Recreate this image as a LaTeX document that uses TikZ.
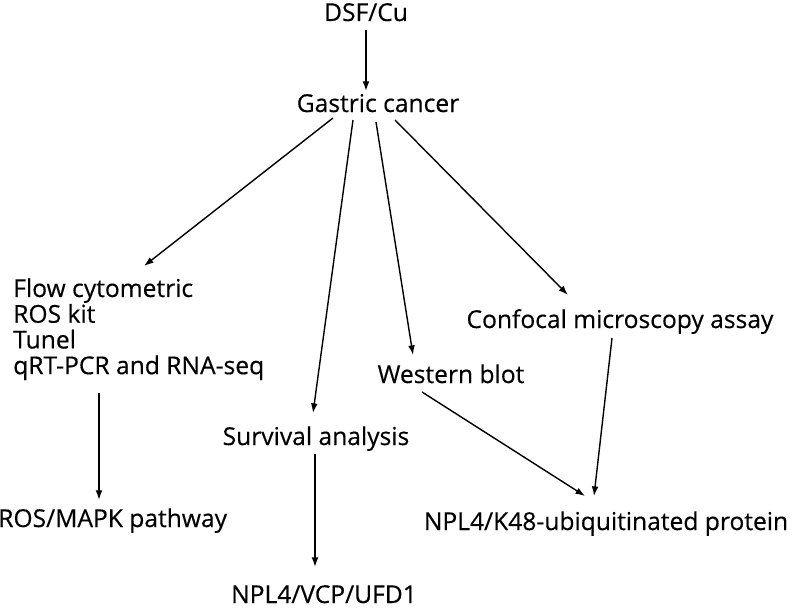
\documentclass[tikz,border=0pt]{standalone}
\usepackage{fontspec}
\setmainfont{Open Sans}[FakeBold=0.4]
\usetikzlibrary{arrows.meta, calc}
\tikzset{
  txt/.style={inner sep=0pt, font=\fontsize{17.5}{18.3}\selectfont},
  flow/.style={-{Latex[length=2.4mm, width=1.7mm]}, line width=1pt, draw=black},
}

\begin{document}
\begin{tikzpicture}[x=0.025cm, y=-0.025cm]
    \useasboundingbox (0,0) rectangle (800,611);
    \node[txt, anchor=base] (dsf) at (366,21) {DSF/Cu};
    \node[txt, anchor=base] (gc) at (378,112) {Gastric cancer};
    \node[txt, anchor=north west, align=left] (flowc) at (13,278)
      {Flow cytometric\\ROS kit\\Tunel\\qRT-PCR and RNA-seq};
    \node[txt, anchor=base] (conf) at (620,328) {Confocal microscopy assay};
    \node[txt, anchor=base] (west) at (451,383) {Western blot};
    \node[txt, anchor=base] (surv) at (316,445) {Survival analysis};
    \node[txt, anchor=base west] (ros) at (-2,527) {ROS/MAPK pathway};
    \node[txt, anchor=base] (k48) at (606,530) {NPL4/K48-ubiquitinated protein};
    \node[txt, anchor=base] (vcp) at (324,603) {NPL4/VCP/UFD1};
    % arrows
    \draw[flow] ($(dsf.base)+(0,9)$) -- ($(dsf.base |- gc.base)+(0,-21)$);
    \draw[flow] ($(gc.base)+(-45,6)$) -- ($(flowc.north west)+(131,-12)$);
    \draw[flow] ($(gc.base)+(-25,8)$) -- ($(surv.base)+(-3,-32)$);
    \draw[flow] ($(gc.base)+(-2,10)$) -- ($(west.base)+(-38,-28)$);
    \draw[flow] ($(gc.base)+(17,8)$) -- ($(conf.base)+(-52,-33)$);
    \draw[flow] ($(flowc.north west)+(86,115)$) -- ($(ros.base west)+(101,-27)$);
    \draw[flow] ($(surv.base)+(-1,9)$) -- ($(vcp.base)+(-9,-36)$);
    \draw[flow] ($(west.base)+(-29,9)$) -- ($(k48.base)+(-21,-34)$);
    \draw[flow] ($(conf.base)+(-8,10)$) -- ($(k48.base)+(-12,-34)$);
\end{tikzpicture}
\end{document}
